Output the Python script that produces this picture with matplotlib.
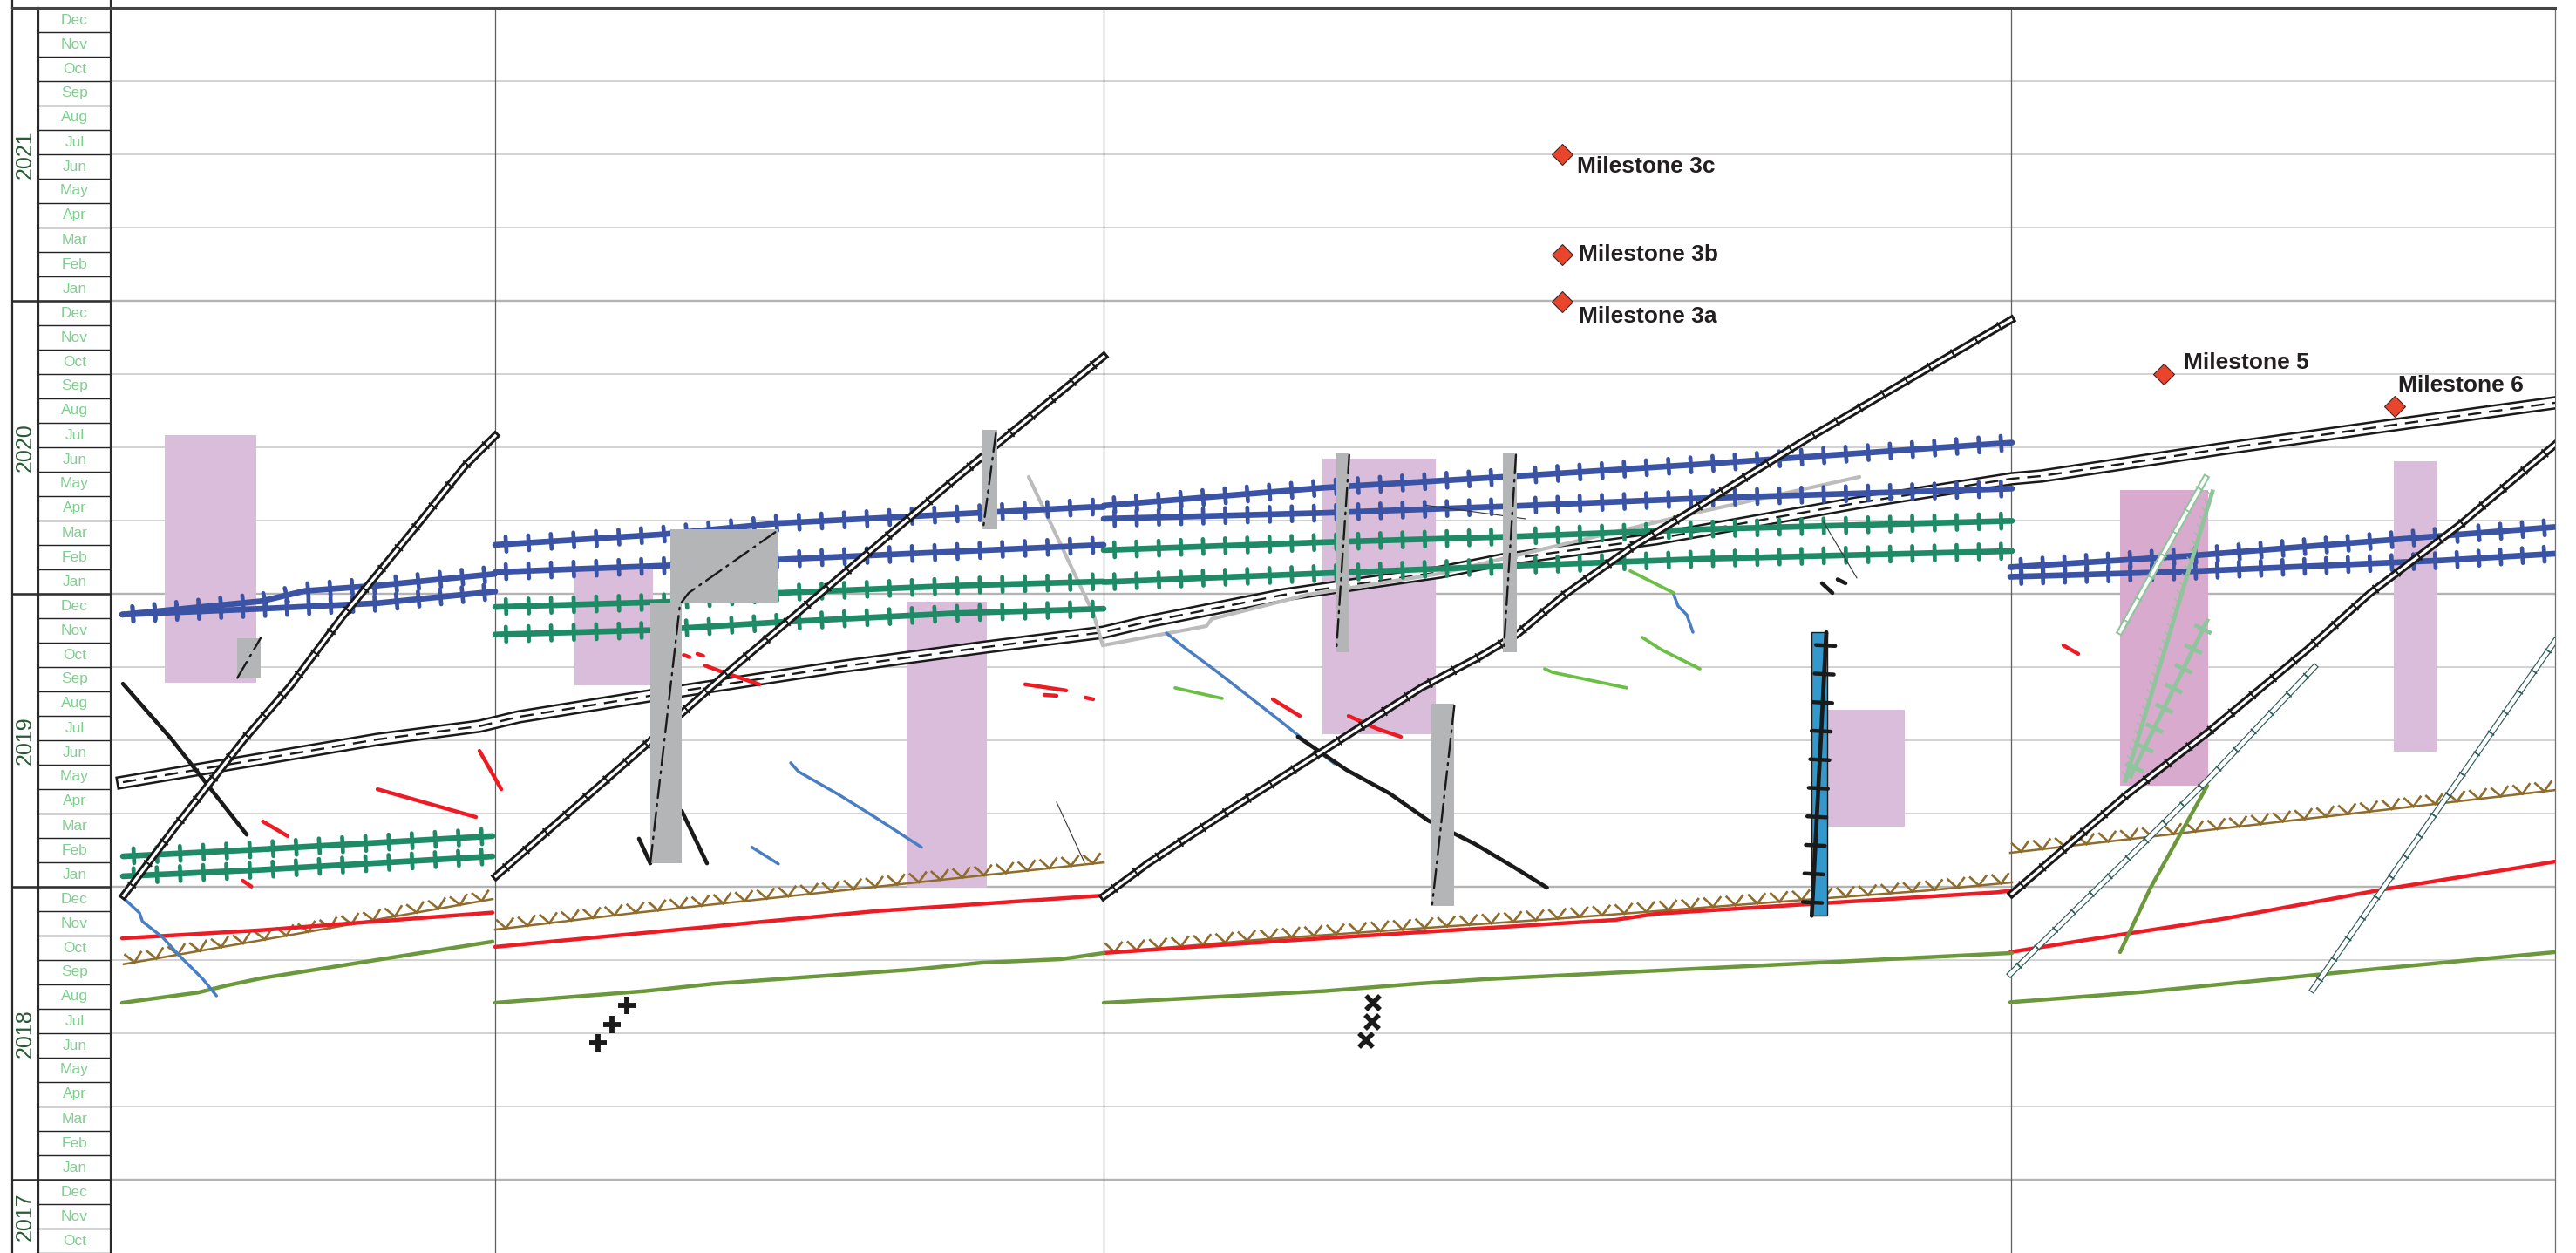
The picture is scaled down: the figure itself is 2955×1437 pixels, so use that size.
import matplotlib
matplotlib.use("Agg")
import matplotlib.pyplot as plt
import matplotlib.patheffects as pe
from matplotlib.patches import Rectangle
from matplotlib.lines import Line2D

plt.rcParams['font.family'] = ['Liberation Sans', 'DejaVu Sans']

# ---------------- calendar / axis values ----------------
year_min, year_max = 2017.75, 2022.0
years = [2017, 2018, 2019, 2020, 2021]
month_names = ["Jan", "Feb", "Mar", "Apr", "May", "Jun",
               "Jul", "Aug", "Sep", "Oct", "Nov", "Dec"]
chainage_max = 28.04                    # km
section_bounds = [4.41, 11.39, 21.80]   # km

# ---------------- data (chainage km, decimal year) ----------------
blue_track_km = [[0.13, 1.73, 2.23, 3.06, 4.41],
                 [0.13, 1.73, 3.06, 4.41],
                 [4.41, 6.28, 7.67, 11.23, 11.39],
                 [4.41, 6.42, 7.67, 11.39],
                 [11.39, 13.91, 16.14, 18.23, 21.81],
                 [11.39, 13.91, 16.14, 18.23, 21.81],
                 [21.79, 23.82, 26.74, 28.04],
                 [21.79, 23.82, 26.74, 28.04]]
blue_track_yr = [[2019.929, 2019.975, 2020.010, 2020.028, 2020.068],
                 [2019.929, 2019.949, 2019.968, 2020.008],
                 [2020.167, 2020.202, 2020.241, 2020.296, 2020.296],
                 [2020.074, 2020.097, 2020.117, 2020.167],
                 [2020.301, 2020.362, 2020.402, 2020.442, 2020.516],
                 [2020.256, 2020.276, 2020.300, 2020.326, 2020.359],
                 [2020.091, 2020.129, 2020.198, 2020.228],
                 [2020.058, 2020.076, 2020.114, 2020.137]]

green_track_km = [[0.14, 1.73, 4.38],
                  [0.14, 1.73, 4.38],
                  [4.41, 6.42, 7.67, 9.73, 11.39],
                  [4.41, 6.19, 7.71, 9.73, 11.39],
                  [11.39, 13.91, 16.14, 18.23, 21.81],
                  [11.39, 13.91, 16.14, 18.23, 21.81]]
green_track_yr = [[2019.104, 2019.128, 2019.173],
                  [2019.036, 2019.058, 2019.104],
                  [2019.955, 2019.973, 2020.003, 2020.028, 2020.042],
                  [2019.861, 2019.876, 2019.904, 2019.934, 2019.949],
                  [2020.149, 2020.176, 2020.196, 2020.220, 2020.249],
                  [2020.040, 2020.070, 2020.096, 2020.119, 2020.146]]

chain_km = [[0.15, 0.73, 1.53, 2.06, 2.66, 3.06, 3.56, 4.06, 4.41],
            [4.42, 6.19, 7.09, 7.80, 8.69, 9.68, 11.39],
            [11.39, 11.90, 12.79, 13.91, 15.03, 15.69, 16.14, 16.68, 17.43, 18.23, 19.40, 21.80],
            [21.81, 23.11, 24.07, 25.20, 25.91, 26.95, 28.04]]
chain_yr = [[2018.970, 2019.200, 2019.503, 2019.685, 2019.923, 2020.068, 2020.250, 2020.435, 2020.539],
            [2019.036, 2019.497, 2019.735, 2019.914, 2020.140, 2020.390, 2020.810],
            [2018.967, 2019.080, 2019.253, 2019.464, 2019.679, 2019.783, 2019.863, 2019.997,
             2020.155, 2020.301, 2020.518, 2020.935],
            [2018.976, 2019.310, 2019.530, 2019.810, 2020.000, 2020.236, 2020.509]]

rail_km = [0.14, 3.06, 4.23, 4.68, 6.19, 8.34, 10.03, 11.39, 11.90, 13.46, 15.25, 15.96,
           17.73, 20.03, 21.81, 22.15, 24.20, 26.37, 28.04]
rail_yr = [2019.357, 2019.503, 2019.548, 2019.580, 2019.652, 2019.750, 2019.818, 2019.869,
           2019.905, 2019.997, 2020.074, 2020.116, 2020.188, 2020.310, 2020.393, 2020.402,
           2020.494, 2020.584, 2020.652]

brown_km = [[0.15, 1.73, 4.38], [4.41, 6.02, 8.78, 11.39],
            [11.39, 13.24, 16.68, 20.83, 21.81], [21.79, 26.24, 28.04]]
brown_yr = [[2018.736, 2018.818, 2018.958], [2018.854, 2018.911, 2019.000, 2019.083],
            [2018.774, 2018.821, 2018.893, 2018.987, 2019.015], [2019.116, 2019.268, 2019.330]]

red_km = [[0.13, 1.73, 4.38], [4.41, 8.78, 11.23, 11.39],
          [11.39, 13.37, 17.26, 17.73, 21.63, 21.81],
          [21.79, 22.61, 24.24, 26.07, 27.62, 28.04]]
red_yr = [[2018.824, 2018.852, 2018.912], [2018.795, 2018.917, 2018.967, 2018.970],
          [2018.774, 2018.814, 2018.887, 2018.908, 2018.981, 2018.987],
          [2018.777, 2018.816, 2018.891, 2018.991, 2019.065, 2019.086]]

olive_km = [[0.13, 1.00, 1.33, 1.73, 4.38],
            [4.41, 6.13, 6.91, 9.22, 9.99, 10.90, 11.39],
            [11.39, 13.92, 14.97, 15.73, 21.81],
            [21.79, 23.32, 26.03, 28.04],
            [23.05, 23.40, 24.05]]
olive_yr = [[2018.604, 2018.639, 2018.663, 2018.688, 2018.813],
            [2018.604, 2018.644, 2018.669, 2018.718, 2018.741, 2018.753, 2018.774],
            [2018.604, 2018.644, 2018.669, 2018.684, 2018.774],
            [2018.606, 2018.641, 2018.721, 2018.777],
            [2018.777, 2018.997, 2019.345]]

lightblue_km = [[0.147, 0.33, 0.363, 0.597, 0.797, 0.93, 1.063, 1.213],
                [7.80, 7.89, 8.36, 8.76, 9.30],
                [7.355, 7.659],
                [12.11, 12.32, 12.66, 13.02, 13.42, 13.73, 14.04],
                [17.93, 17.98, 18.08, 18.15]]
lightblue_yr = [[2018.961, 2018.911, 2018.882, 2018.827, 2018.762, 2018.723, 2018.683, 2018.628],
                [2019.423, 2019.393, 2019.313, 2019.239, 2019.135],
                [2019.135, 2019.078],
                [2019.866, 2019.816, 2019.741, 2019.658, 2019.565, 2019.491, 2019.420],
                [2019.997, 2019.958, 2019.928, 2019.869]]

red_short_km = [[1.513, 1.613], [1.745, 2.03], [3.06, 3.48, 4.19], [4.23, 4.48],
                [6.574, 6.64], [6.73, 6.797], [6.82, 7.00, 7.44], [10.49, 10.96],
                [10.71, 10.85], [11.18, 11.27], [13.33, 13.64], [14.20, 14.53, 14.80],
                [22.40, 22.57]]
red_short_yr = [[2019.021, 2019.001], [2019.223, 2019.173], [2019.333, 2019.298, 2019.238],
                [2019.464, 2019.333], [2019.791, 2019.784], [2019.795, 2019.788],
                [2019.755, 2019.735, 2019.691], [2019.691, 2019.670], [2019.655, 2019.652],
                [2019.646, 2019.640], [2019.640, 2019.583], [2019.583, 2019.539, 2019.512],
                [2019.824, 2019.795]]

lightgreen_km = [[12.21, 12.43, 12.75], [16.45, 16.54, 17.39],
                 [17.57, 17.79, 18.23], [17.43, 17.93]]
lightgreen_yr = [[2019.679, 2019.664, 2019.643], [2019.744, 2019.732, 2019.679],
                 [2019.851, 2019.809, 2019.744], [2020.078, 2020.003]]

black_km = [[0.14, 0.70, 1.56], [6.06, 6.19], [6.55, 6.84],
            [13.618, 14.176, 14.668, 15.114, 15.65, 16.096, 16.476],
            [19.63, 19.75], [19.81, 19.90]]
black_yr = [[2019.693, 2019.503, 2019.178], [2019.164, 2019.080], [2019.259, 2019.080],
            [2019.512, 2019.399, 2019.319, 2019.226, 2019.146, 2019.067, 2018.997],
            [2020.036, 2020.003], [2020.049, 2020.036]]

thin_km = [[10.85, 11.17], [15.09, 16.23], [19.65, 20.03]]
thin_yr = [[2019.289, 2019.083], [2020.302, 2020.256], [2020.244, 2020.054]]

grayline_km = [10.53, 11.27, 11.38, 12.57, 12.63, 13.73, 15.25, 18.19, 20.06]
grayline_yr = [2020.399, 2019.934, 2019.824, 2019.890, 2019.914, 2019.997, 2020.069,
               2020.277, 2020.399]

# zones: [km_start, km_end, year_start, year_end]
pink_zones = [[0.62, 1.673, 2019.696, 2020.542],
              [5.315, 6.217, 2019.687, 2020.087],
              [9.127, 10.047, 2018.996, 2019.973],
              [13.90, 15.203, 2019.521, 2020.462],
              [19.687, 20.58, 2019.206, 2019.605],
              [26.191, 26.68, 2019.461, 2020.452]]
pink_dark_zones = [[23.05, 24.057, 2019.344, 2020.354]]
gray_zones = [[1.453, 1.72, 2019.713, 2019.849],
              [6.418, 7.654, 2019.970, 2020.219],
              [6.194, 6.551, 2019.080, 2019.970],
              [9.998, 10.168, 2020.219, 2020.560],
              [14.056, 14.212, 2019.802, 2020.478],
              [15.97, 16.127, 2019.802, 2020.478],
              [15.15, 15.413, 2018.936, 2019.625]]
dashdot_km = [[1.453, 1.72], [6.19, 6.53, 6.63, 7.67], [10.154, 10.007],
              [14.208, 14.06], [16.12, 15.98], [15.413, 15.159]]
dashdot_yr = [[2019.713, 2019.849], [2019.080, 2019.964, 2020.003, 2020.220],
              [2020.548, 2020.221], [2020.474, 2019.809], [2020.474, 2019.809],
              [2019.618, 2018.940]]
blue_zone = [19.507, 19.687, 2018.901, 2019.869]
blue_zone_line_km = [19.68, 19.513]
blue_zone_line_yr = [2019.869, 2018.901]

teal_chain_km = [[21.79, 24.07, 25.28], [25.26, 28.04]]
teal_chain_yr = [[2018.702, 2019.369, 2019.750], [2018.649, 2019.839]]
palegreen_chain_km = [23.05, 24.03]
palegreen_chain_yr = [2019.871, 2020.395]
palegreen_hook_km = [23.11, 24.11]
palegreen_hook_yr = [2019.362, 2020.349]
palegreen_cross_km = [23.17, 24.05]
palegreen_cross_yr = [2019.377, 2019.909]

plus_km = [5.593, 5.747, 5.923]
plus_yr = [2018.467, 2018.530, 2018.596]
xmark_km = [14.48, 14.467, 14.397]
xmark_yr = [2018.604, 2018.539, 2018.475]

milestone_names = ["Milestone 3c", "Milestone 3b", "Milestone 3a", "Milestone 5", "Milestone 6"]
milestone_km = [16.65, 16.65, 16.65, 23.55, 26.20]
milestone_yr = [2021.501, 2021.159, 2020.998, 2020.749, 2020.641]

# ---------------- styles ----------------
BLUE = '#3a53a4'
GREEN = '#1f8b66'
RED = '#ed1c24'
OLIVE = '#6b983a'
BROWN = '#8f6c2b'
LBLUE = '#4a7ec2'
LGREEN = '#6cbf45'
PINK = '#d9bddb'
PINK_D = '#d8aacd'
GRAYBOX = '#b4b5b7'
TEAL = '#2e5c5a'
PALEGREEN = '#8fc59a'
DARK = '#1a1a1a'

W, H = 2955, 1437
top_px, cal_left_px, left_px, right_px = 9, 14, 127, 2931

fig = plt.figure(figsize=(W / 100, H / 100), dpi=100)
ax = fig.add_axes([left_px / W, 0, (right_px - left_px) / W, (H - top_px) / H])
ax.set_xlim(0, chainage_max)
ax.set_ylim(year_min, year_max)
ax.axis('off')


def ticks(color, spacing, length, lw, angles):
    return [pe.TickedStroke(spacing=spacing, angle=a, length=length,
                            linewidth=lw, foreground=color) for a in angles]


# grid
for k in range(1, 17):
    y = year_min + 0.25 * k
    if y >= year_max:
        break
    is_year = abs(y - round(y)) < 1e-9
    ax.axhline(y, color='#b4b4b4' if is_year else '#cfcfcf',
               lw=1.7 if is_year else 1.3, zorder=0)
for xb in section_bounds:
    ax.axvline(xb, color='#5e5e5e', lw=0.9, zorder=0.5)
ax.axvline(chainage_max, color='#6e6e6e', lw=0.9, zorder=0.5, clip_on=False)

# zones
for x0, x1, y0, y1 in pink_zones:
    ax.add_patch(Rectangle((x0, y0), x1 - x0, y1 - y0, facecolor=PINK, edgecolor='none', zorder=1))
for x0, x1, y0, y1 in pink_dark_zones:
    ax.add_patch(Rectangle((x0, y0), x1 - x0, y1 - y0, facecolor=PINK_D, edgecolor='none', zorder=1))

# rail (double line with dashed centre)
ax.plot(rail_km, rail_yr, color=DARK, lw=11, zorder=2.5, solid_joinstyle='miter',
        path_effects=[pe.Normal(), pe.Stroke(linewidth=7.4, foreground='white')])
ax.plot(rail_km, rail_yr, color=DARK, lw=1.7, ls=(0, (6.5, 3.8)), zorder=2.6)

# gray line
ax.plot(grayline_km, grayline_yr, color='#bcbcbc', lw=3, zorder=2.7, solid_capstyle='round')

# tracks
for xs, ys in zip(blue_track_km, blue_track_yr):
    ax.plot(xs, ys, color=BLUE, lw=4.8, zorder=3, solid_capstyle='round',
            path_effects=[pe.Normal()] + ticks(BLUE, 18, 0.34, 3.4, (90, -90)))
for xs, ys in zip(green_track_km, green_track_yr):
    ax.plot(xs, ys, color=GREEN, lw=4.8, zorder=3, solid_capstyle='round',
            path_effects=[pe.Normal()] + ticks(GREEN, 18, 0.34, 3.4, (90, -90)))

# brown ticked lines
for xs, ys in zip(brown_km, brown_yr):
    ax.plot(xs, ys, color=BROWN, lw=1.8, zorder=3,
            path_effects=[pe.Normal()] + ticks(BROWN, 18, 0.55, 1.9, (48, 132)))

for xs, ys in zip(red_km, red_yr):
    ax.plot(xs, ys, color=RED, lw=3.2, zorder=3, solid_capstyle='round')
for xs, ys in zip(olive_km, olive_yr):
    ax.plot(xs, ys, color=OLIVE, lw=3.2, zorder=3, solid_capstyle='round')
for xs, ys in zip(lightblue_km, lightblue_yr):
    ax.plot(xs, ys, color=LBLUE, lw=2.5, zorder=3, solid_capstyle='round')
for xs, ys in zip(red_short_km, red_short_yr):
    ax.plot(xs, ys, color=RED, lw=3.2, zorder=3, solid_capstyle='round')
for xs, ys in zip(lightgreen_km, lightgreen_yr):
    ax.plot(xs, ys, color=LGREEN, lw=2.7, zorder=3, solid_capstyle='round')
for xs, ys in zip(black_km, black_yr):
    ax.plot(xs, ys, color=DARK, lw=3.3, zorder=3, solid_capstyle='round')
for xs, ys in zip(thin_km, thin_yr):
    ax.plot(xs, ys, color='#333333', lw=0.8, zorder=3)

# section-4 pale green group and teal chains
ax.plot(palegreen_hook_km, palegreen_hook_yr, color=PALEGREEN, lw=3.4, zorder=3.2,
        path_effects=[pe.Normal()] + ticks(PALEGREEN, 7, 0.7, 0.9, (60,)))
ax.plot(palegreen_cross_km, palegreen_cross_yr, color=PALEGREEN, lw=3.4, zorder=3.2,
        path_effects=[pe.Normal()] + ticks(PALEGREEN, 16, 0.38, 3.4, (90, -90)))
ax.plot(palegreen_chain_km, palegreen_chain_yr, color=PALEGREEN, lw=5.5, zorder=3.2,
        path_effects=[pe.Normal(), pe.Stroke(linewidth=2.6, foreground='white')]
        + ticks(PALEGREEN, 20, 0.15, 1.3, (90, -90)))
for xs, ys in zip(teal_chain_km, teal_chain_yr):
    ax.plot(xs, ys, color=TEAL, lw=5.0, zorder=3.2,
            path_effects=[pe.Normal(), pe.Stroke(linewidth=3.3, foreground='white')]
            + ticks(TEAL, 20, 0.13, 1.2, (90, -90)))

# black chain lines
for xs, ys in zip(chain_km, chain_yr):
    ax.plot(xs, ys, color=DARK, lw=6.6, zorder=3.5,
            path_effects=[pe.Normal(), pe.Stroke(linewidth=2.3, foreground='white')]
            + ticks(DARK, 22, 0.16, 1.4, (90, -90)))

# gray boxes with dash-dot lines
for x0, x1, y0, y1 in gray_zones:
    ax.add_patch(Rectangle((x0, y0), x1 - x0, y1 - y0, facecolor=GRAYBOX, edgecolor='none', zorder=4))
for xs, ys in zip(dashdot_km, dashdot_yr):
    ax.plot(xs, ys, color=DARK, lw=1.7, ls=(0, (9, 3, 1, 3)), zorder=4.5,
            dash_capstyle='round')

# blue box with ticked line
bx0, bx1, by0, by1 = blue_zone
ax.add_patch(Rectangle((bx0, by0), bx1 - bx0, by1 - by0, facecolor='#3399cc',
                       edgecolor=DARK, lw=1.0, zorder=5))
ax.plot(blue_zone_line_km, blue_zone_line_yr, color=DARK, lw=3.4, zorder=6,
        solid_capstyle='round',
        path_effects=[pe.Normal()] + ticks(DARK, 22, 0.36, 3.2, (90, -90)))

# cross markers
ax.plot(plus_km, plus_yr, ls='none', marker='+', ms=15, mew=4.2, color=DARK, zorder=6)
ax.plot(xmark_km, xmark_yr, ls='none', marker='x', ms=11, mew=4.0, color=DARK, zorder=6)

# milestones
ax.plot(milestone_km, milestone_yr, ls='none', marker='D', ms=12.5, mfc='#e8452c',
        mec='#3a2a2a', mew=0.8, zorder=8, clip_on=False)
label_offsets = [(12, -10), (14, 0), (14, -12.5), (16.5, 9.7), (3, 17.3)]
for name, x, y, off in zip(milestone_names, milestone_km, milestone_yr, label_offsets):
    ax.annotate(name, (x, y), xytext=off, textcoords='offset points', fontsize=19,
                fontweight='bold', color='#231f20', ha='left', va='center', zorder=8)

# ---------------- calendar column ----------------
cal = fig.add_axes([cal_left_px / W, 0, (left_px - cal_left_px) / W, (H - top_px) / H])
cal.set_xlim(0, 1)
cal.set_ylim(year_min, year_max)
cal.axis('off')
ycol = (44 - cal_left_px) / (left_px - cal_left_px)

m_start = 2017 * 12 + 9
m_end = 2022 * 12
for m in range(m_start, m_end):
    y0 = m / 12.0
    if m % 12 == 0:
        cal.plot([0, 1], [y0, y0], color='#333333', lw=1.9, clip_on=False,
                 solid_capstyle='butt')
    else:
        cal.plot([ycol, 1], [y0, y0], color='#222222', lw=1.0, solid_capstyle='butt')
    cal.text((ycol + 1) / 2, y0 + 1 / 24.0, month_names[m % 12], ha='center', va='center',
             fontsize=12.5, color='#80cf90')

for yv in years:
    lo, hi = max(yv, year_min), min(yv + 1, year_max)
    cal.text(ycol / 2, (lo + hi) / 2, str(yv), rotation=90, ha='center', va='center',
             fontsize=18, color='#2c5a35')

for xv in (0, ycol, 1):
    cal.plot([xv, xv], [year_min, year_max], color='#2a2a2a', lw=1.6, clip_on=False)

# frame pieces above the plot
ytop = 1 - top_px / H
for px in (cal_left_px, left_px):
    fig.add_artist(Line2D([px / W, px / W], [ytop, 1], color='#2a2a2a', lw=1.6))
fig.add_artist(Line2D([cal_left_px / W, right_px / W], [ytop, ytop], color='#444444', lw=2.2))

fig.savefig('out.png', dpi=100)
